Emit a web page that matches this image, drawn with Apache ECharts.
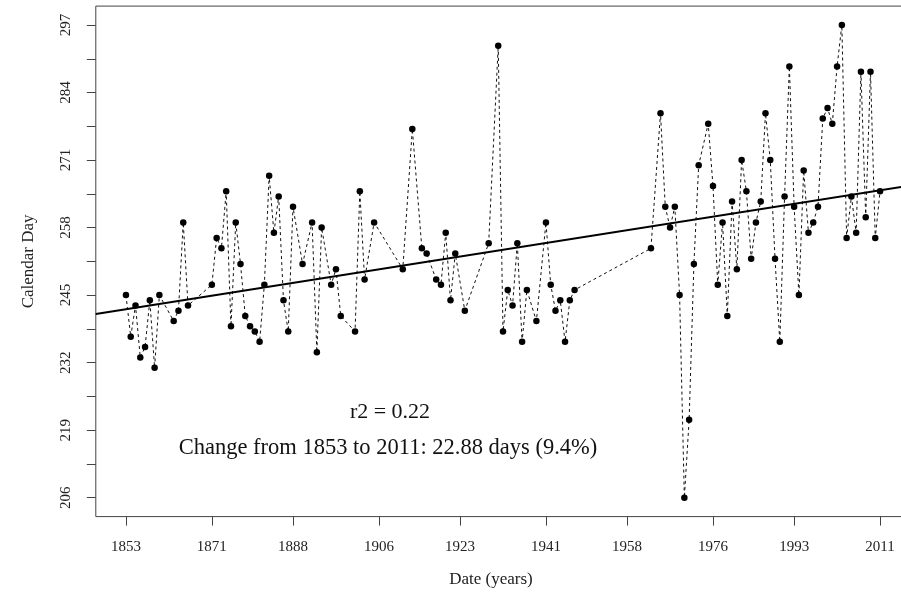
<!DOCTYPE html>
<html><head><meta charset="utf-8">
<script src="https://cdn.jsdelivr.net/npm/echarts@6/dist/echarts.min.js"></script>
<style>html,body{margin:0;padding:0;background:#fff}#c{width:901px;height:600px}</style>
</head><body><div id="c"></div>
<script>
// ---- data ----
const years = [1853,1854,1855,1856,1857,1858,1859,1860,1863,1864,1865,1866,
  1871,1872,1873,1874,1875,1876,1877,1878,1879,1880,1881,1882,1883,1884,1885,1886,1887,1888,
  1890,1892,1893,1894,1896,1897,1898,1901,1902,1903,1905,1911,1913,1915,1916,1918,1919,1920,1921,1922,
  1924,1929,1931,1932,1933,1934,1935,1936,1937,1939,1941,1942,1943,1944,1945,1946,1947,
  1963,1965,1966,1967,1968,1969,1970,1971,1972,1973,1975,1976,1977,1978,1979,1980,1981,1982,1983,
  1984,1985,1986,1987,1988,1989,1990,1991,1992,1993,1994,1995,1996,1997,1998,1999,2000,2001,2002,
  2003,2004,2005,2006,2007,2008,2009,2010,2011];
const days = [245,237,243,233,235,244,231,245,240,242,259,243,
  247,256,254,265,239,259,251,241,239,238,236,247,268,257,264,244,238,262,
  251,259,234,258,247,250,241,238,265,248,259,250,277,254,253,248,247,257,244,253,
  242,255,293,238,246,243,255,236,246,240,259,247,242,244,236,244,246,
  254,280,262,258,262,245,206,221,251,270,278,266,247,259,241,263,250,271,265,
  252,259,263,280,271,252,236,264,289,262,245,269,257,259,262,279,281,278,289,
  297,256,264,257,288,260,288,256,265];
const xTickValues = [1853,1871,1888,1906,1923,1941,1958,1976,1993,2011];
const yTickLabels = [206,219,232,245,258,271,284,297];
const yTickMarks = [206,212.5,219,225.5,232,238.5,245,251.5,258,264.5,271,277.5,284,290.5,297];
const trendYear0 = 1853;
const trendValue0 = 242.3;   // fitted value at 1853
const trendYear1 = 2011;
const trendChange = 22.88;   // days from 1853 to 2011
const r2Text = 'r2 = 0.22';
const changeText = 'Change from 1853 to 2011: 22.88 days (9.4%)';
const xTitle = 'Date (years)';
const yTitle = 'Calendar Day';

// ---- chart ----
const xMin = 1846.68, xMax = 2017.32, yMin = 202.36, yMax = 300.64;
const slope = trendChange / (trendYear1 - trendYear0);
const trendLine = [xMin, xMax].map(x => [x, trendValue0 + slope * (x - trendYear0)]);
const points = years.map((y, i) => [y, days[i]]);
const FONT = "'Liberation Serif', 'DejaVu Serif', serif";
const AX = '#444';

const chart = echarts.init(document.getElementById('c'), null, {renderer: 'canvas'});
chart.setOption({
  animation: false,
  backgroundColor: '#fff',
  grid: {left: 95.8, right: -9.2, top: 6.1, bottom: 83.4, show: true,
         outerBoundsMode: 'none', containLabel: false,
         borderColor: AX, borderWidth: 1, backgroundColor: 'transparent'},
  xAxis: {
    type: 'value', min: xMin, max: xMax,
    axisLine: {show: false},
    splitLine: {show: false},
    axisTick: {show: true, inside: false, length: 9, customValues: xTickValues,
               lineStyle: {color: AX, width: 1}},
    axisLabel: {customValues: xTickValues, margin: 23, fontFamily: FONT, fontSize: 15, color: '#222',
                formatter: v => String(Math.round(v))}
  },
  yAxis: {
    type: 'value', min: yMin, max: yMax,
    axisLine: {show: false},
    splitLine: {show: false},
    axisTick: {show: true, inside: false, length: 9, customValues: yTickMarks,
               lineStyle: {color: AX, width: 1}},
    axisLabel: {customValues: yTickLabels, rotate: 90, margin: 22, fontFamily: FONT, fontSize: 15, color: '#222',
                formatter: v => String(Math.round(v))}
  },
  series: [
    {
      type: 'line', data: points, symbol: 'circle', symbolSize: 6.5,
      itemStyle: {color: '#000'},
      lineStyle: {color: '#111', width: 1, type: [3, 3]},
      z: 3, silent: true
    },
    {
      type: 'line', data: trendLine, symbol: 'none',
      lineStyle: {color: '#000', width: 2},
      z: 4, silent: true
    }
  ],
  graphic: [
    {type: 'text', x: 390, y: 412,
     style: {text: r2Text, font: "22px " + FONT, fill: '#111', textAlign: 'center', textVerticalAlign: 'middle'}},
    {type: 'text', x: 388, y: 448,
     style: {text: changeText, font: "22.5px " + FONT, fill: '#111', textAlign: 'center', textVerticalAlign: 'middle'}},
    {type: 'text', x: 491, y: 580,
     style: {text: xTitle, font: "17px " + FONT, fill: '#222', textAlign: 'center', textVerticalAlign: 'middle'}},
    {type: 'text', x: 29, y: 261.4, rotation: Math.PI / 2,
     style: {text: yTitle, font: "17px " + FONT, fill: '#222', textAlign: 'center', textVerticalAlign: 'middle'}}
  ]
});
</script>
</body></html>
